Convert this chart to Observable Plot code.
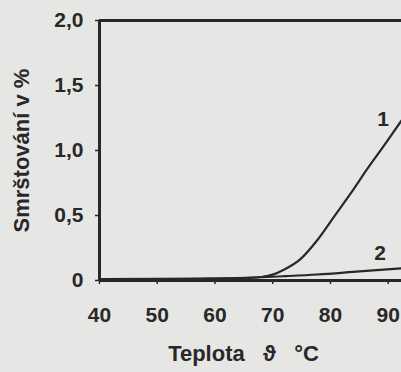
<!DOCTYPE html>
<html>
<head>
<meta charset="utf-8">
<script src="https://cdn.jsdelivr.net/npm/d3@7"></script>
<script src="https://cdn.jsdelivr.net/npm/@observablehq/plot@0.6"></script>
<style>
  html, body { margin: 0; padding: 0; background: #e6e6e4; }
  #chart svg { display: block; font-family: "Liberation Sans", Arial, sans-serif; }
</style>
</head>
<body>
<div id="chart"></div>
<script>
// Curve 1
const temps1  = [40, 50, 60, 66, 68, 70, 72, 74.8, 77.7, 80.6, 83.5, 86.4, 89.3, 92.3];
const shrink1 = [0.01, 0.01, 0.015, 0.02, 0.027, 0.045, 0.085, 0.165, 0.31, 0.49, 0.67, 0.86, 1.04, 1.23];
// Curve 2
const temps2  = [40, 60, 68, 72, 77.7, 85, 92.3];
const shrink2 = [0.01, 0.015, 0.025, 0.033, 0.046, 0.07, 0.093];
// Curve labels
const curveNames = ["1", "2"];
const curveLabelX = [89.1, 88.6];
const curveLabelY = [1.24, 0.21];
// Ticks and texts
const xTicks = [40, 50, 60, 70, 80, 90];
const yTicks = [0, 0.5, 1.0, 1.5, 2.0];
const yTickLabels = ["0", "0,5", "1,0", "1,5", "2,0"];
const xTitle = "Teplota   ϑ   °C";
const yTitle = "Smrštování v %";

const line1 = temps1.map((t, i) => ({t, v: shrink1[i]}));
const line2 = temps2.map((t, i) => ({t, v: shrink2[i]}));
const labels = curveNames.map((n, i) => ({n, t: curveLabelX[i], v: curveLabelY[i]}));

const ink = "#282828";

const chart = Plot.plot({
  width: 401,
  height: 372,
  marginLeft: 99,
  marginRight: 0,
  marginTop: 20,
  marginBottom: 92,
  style: {background: "transparent", color: ink, fontWeight: "bold"},
  x: {domain: [40, 92.3]},
  y: {domain: [0, 2]},
  marks: [
    Plot.axisX({ticks: xTicks, tickSize: 4, tickPadding: 23, tickFormat: d => String(d),
      label: null, fontSize: 21, strokeWidth: 1.5}),
    Plot.axisY({ticks: yTicks, tickSize: 4, tickPadding: 12, tickFormat: d => yTickLabels[yTicks.indexOf(d)],
      label: null, fontSize: 21, strokeWidth: 1.5}),
    Plot.text([xTitle], {frameAnchor: "bottom", textAnchor: "middle", dx: -7, dy: 80, fontSize: 22, fontWeight: "bold", fill: ink, letterSpacing: 2.2}),
    Plot.text([yTitle], {frameAnchor: "left", textAnchor: "middle", dx: -78, rotate: -90, fontSize: 22, fontWeight: "bold", fill: ink, letterSpacing: 1.4}),
    Plot.ruleY([0], {stroke: ink, strokeWidth: 3}),
    Plot.ruleY([2], {stroke: ink, strokeWidth: 3}),
    Plot.ruleX([40], {stroke: ink, strokeWidth: 3}),
    Plot.line(line1, {x: "t", y: "v", curve: "monotone-x", stroke: ink, strokeWidth: 2.2}),
    Plot.line(line2, {x: "t", y: "v", curve: "monotone-x", stroke: ink, strokeWidth: 2.2}),
    Plot.text(labels, {x: "t", y: "v", text: "n", fontSize: 21, fontWeight: "bold", fill: ink})
  ]
});
document.getElementById("chart").appendChild(chart);
</script>
</body>
</html>
